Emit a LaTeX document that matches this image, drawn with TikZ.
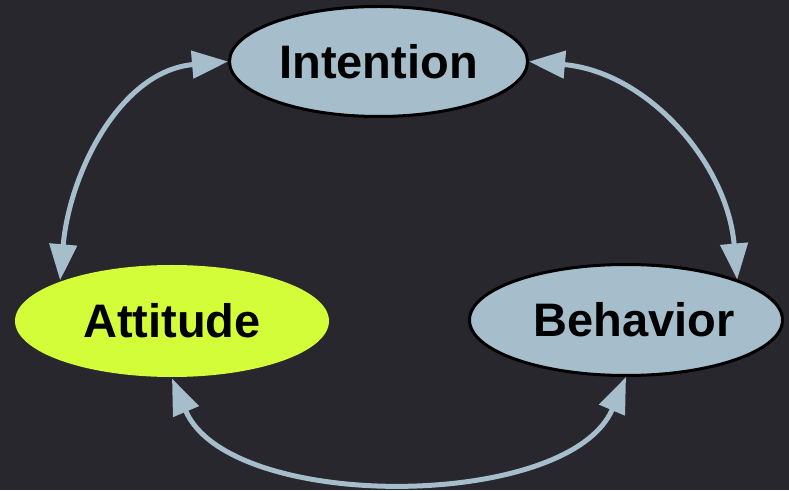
\documentclass[tikz,border=0pt]{standalone}
\usepackage{fontspec}
\setmainfont{Liberation Sans}
\usetikzlibrary{arrows.meta,shapes.geometric}
\definecolor{bgdark}{HTML}{28272D}
\definecolor{nodegrey}{HTML}{A6BDCB}
\definecolor{limefill}{HTML}{D4FD39}
\begin{document}
\begin{tikzpicture}[x=1pt,y=1pt]
		\tikzstyle{every node}+=[inner sep=0pt, font=\fontsize{47}{56}\selectfont\bfseries]
		\tikzstyle{state}=[ellipse, fill=nodegrey, draw=black, line width=3pt]
		\tikzstyle{link}=[color=nodegrey, line width=5pt, {Triangle[length=36pt,width=27pt]}-{Triangle[length=36pt,width=27pt]}]
		\useasboundingbox (0,0) rectangle (789,490);
		\fill [bgdark] (0,0) rectangle (789,490);
		\node [state, minimum width=298, minimum height=110] (intention) at (378.5,428.5) {Intention};
		\node [state, draw=none, fill=limefill, minimum width=314, minimum height=112] (attitude) at (172,169) {Attitude};
		\node [state, minimum width=313, minimum height=111] (behavior) at (626,170) {\hspace*{16pt}Behavior};
		\draw [link] (intention.180) to [out=185, in=85] (attitude.160);
		\draw [link] (intention.0) to [out=-5, in=95] (behavior.20);
		\draw [link] (attitude.270) to [out=-67, in=-113, looseness=0.82] (behavior.270);
\end{tikzpicture}
\end{document}
